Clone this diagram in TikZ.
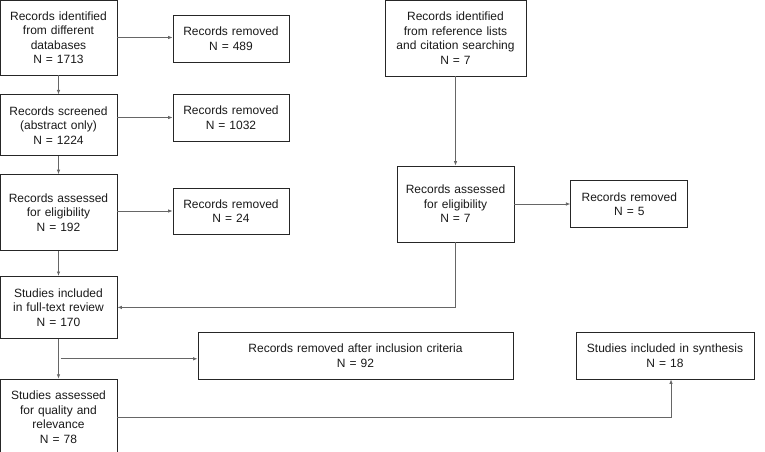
\documentclass[tikz,border=0pt]{standalone}
\usepackage{fontspec}
\setmainfont{Liberation Sans}
\usetikzlibrary{positioning, arrows.meta, calc}

\begin{document}
\begin{tikzpicture}[x=1pt, y=-1pt,
  box/.style={draw=black!85, line width=0.8pt, align=center, inner sep=0pt, text=black!90, font=\fontsize{12}{14.5}\selectfont},
  arr/.style={-{Latex[length=4.5pt, width=3.5pt]}, draw=black!60, line width=0.8pt}]
\useasboundingbox (0,0) rectangle (765,452);
% left column
\node[box, minimum width=117pt, text width=113pt, minimum height=75pt] (ident) at (58.5,37.5) {Records identified\\from different\\databases\\N = 1713};
\node[box, minimum width=117pt, text width=113pt, minimum height=61pt, below=19pt of ident] (screen) {Records screened\\(abstract only)\\N = 1224};
\node[box, minimum width=117pt, text width=113pt, minimum height=76pt, below=18pt of screen] (elig) {Records assessed\\for eligibility\\N = 192};
\node[box, minimum width=117pt, text width=113pt, minimum height=62pt, below=25pt of elig] (full) {Studies included\\in full-text review\\N = 170};
\node[box, minimum width=117pt, text width=113pt, minimum height=76pt, below=40pt of full] (qual) {Studies assessed\\for quality and\\relevance\\N = 78};
% removed boxes
\node[box, minimum width=116pt, text width=112pt, minimum height=47pt] (rem1) at (231,38.5) {Records removed\\N = 489};
\node[box, minimum width=116pt, text width=112pt, minimum height=47pt] (rem2) at (231,117.5) {Records removed\\N = 1032};
\node[box, minimum width=116pt, text width=112pt, minimum height=46pt] (rem3) at (231,211) {Records removed\\N = 24};
\node[box, minimum width=315pt, text width=311pt, minimum height=47pt] (incl) at (355.5,355.5) {Records removed after inclusion criteria\\N = 92};
\node[box, minimum width=178pt, text width=174pt, minimum height=47pt] (synth) at (665,355.5) {Studies included in synthesis\\N = 18};
% other sources
\node[box, minimum width=141pt, text width=137pt, minimum height=76pt] (refs) at (455.5,38) {Records identified\\from reference lists\\and citation searching\\N = 7};
\node[box, minimum width=117pt, text width=113pt, minimum height=76pt] (elig2) at (455.5,204) {Records assessed\\for eligibility\\N = 7};
\node[box, minimum width=117pt, text width=113pt, minimum height=47pt, right=56pt of elig2] (rem5) {Records removed\\N = 5};
\coordinate (split) at ($(full.south)!0.5!(qual.north)$);
\draw[arr] (ident.south) -- (screen.north);
\draw[arr] (screen.south) -- (elig.north);
\draw[arr] (elig.south) -- (full.north);
\draw[arr] (full.south) -- (qual.north);
\draw[arr] (ident.east) -- (ident.east -| rem1.west);
\draw[arr] (rem2.west -| screen.east) -- (rem2.west);
\draw[arr] (rem3.west -| elig.east) -- (rem3.west);
\draw[arr] ([xshift=2pt]split) -- (split -| incl.west);
\draw[arr] (qual.east) -| ([xshift=6pt]synth.south);
\draw[arr] (refs.south) -- (elig2.north);
\draw[arr] (elig2.east) -- (rem5.west);
\draw[arr] (elig2.south) |- (full.east);
\end{tikzpicture}
\end{document}
